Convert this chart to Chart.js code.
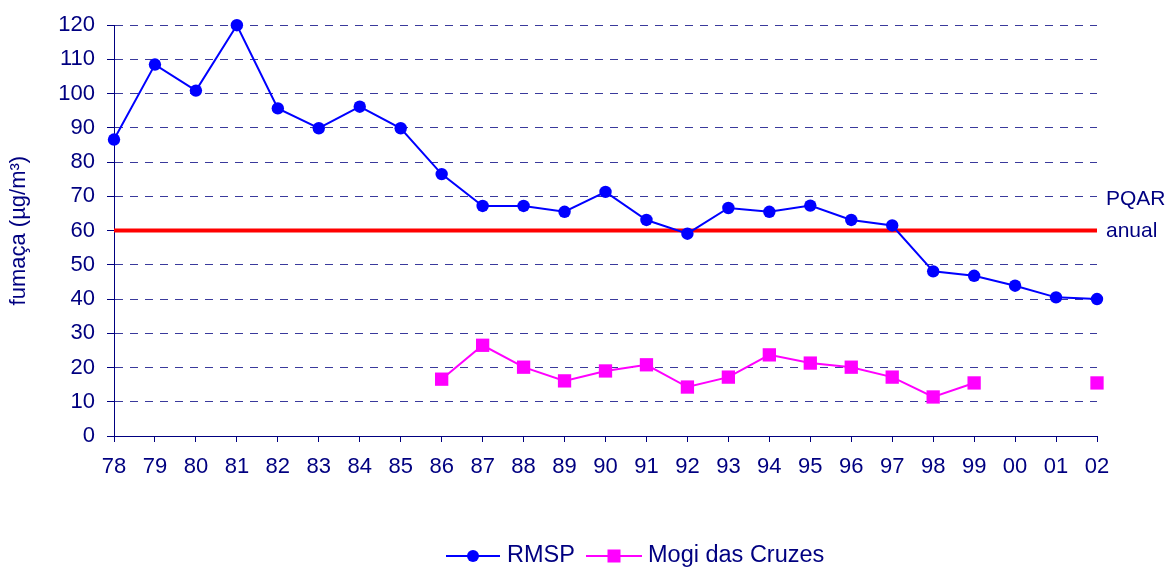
<!DOCTYPE html>
<html>
<head>
<meta charset="utf-8">
<script src="https://cdn.jsdelivr.net/npm/chart.js@4.4.1/dist/chart.umd.min.js"></script>
<style>
  html, body { margin: 0; padding: 0; background: #fff; }
  #wrap { width: 1166px; height: 568px; position: relative; }
</style>
</head>
<body>
<div id="wrap"><canvas id="chart"></canvas></div>
<script>
// ── Data ──────────────────────────────────────────────────────────────────
const years = ['78', '79', '80', '81', '82', '83', '84', '85', '86', '87', '88', '89',
  '90', '91', '92', '93', '94', '95', '96', '97', '98', '99', '00', '01', '02'];

const rmsp = [86.6, 108.5, 100.9, 120, 95.7, 89.9, 96.2, 89.9, 76.5, 67.2, 67.2, 65.5,
  71.3, 63.1, 59.1, 66.6, 65.5, 67.3, 63.1, 61.5, 48.1, 46.8, 43.9, 40.5, 40.0];

const mogi = [null, null, null, null, null, null, null, null, 16.6, 26.5, 20.1, 16.1,
  19.0, 20.8, 14.3, 17.2, 23.7, 21.3, 20.1, 17.2, 11.4, 15.5, null, null, 15.5];

const pqarAnual = 60;

const NAVY = '#000080';
const FONT = '"Liberation Sans", Arial, sans-serif';

// ── Plugins: PQAR label and bottom legend ─────────────────────────────────
const pqarLabel = {
  id: 'pqarLabel',
  afterDraw(chart) {
    const { ctx, chartArea, scales } = chart;
    const y = scales.y.getPixelForValue(pqarAnual);
    ctx.save();
    ctx.fillStyle = NAVY;
    ctx.font = '21px ' + FONT;
    ctx.textAlign = 'left';
    ctx.textBaseline = 'middle';
    ctx.fillText('PQAR', chartArea.right + 9, y - 31);
    ctx.fillText('anual', chartArea.right + 9, y + 1);
    ctx.restore();
  },
};

const bottomLegend = {
  id: 'bottomLegend',
  afterDraw(chart) {
    const { ctx } = chart;
    const y = 556;
    ctx.save();
    ctx.font = '23.5px ' + FONT;
    ctx.textBaseline = 'middle';

    // RMSP
    let x = 446;
    ctx.strokeStyle = '#0000ff';
    ctx.lineWidth = 2;
    ctx.beginPath();
    ctx.moveTo(x, y);
    ctx.lineTo(x + 54, y);
    ctx.stroke();
    ctx.fillStyle = '#0000ff';
    ctx.beginPath();
    ctx.arc(x + 27, y, 6, 0, Math.PI * 2);
    ctx.fill();
    ctx.fillStyle = NAVY;
    ctx.fillText('RMSP', x + 61, y);

    // Mogi das Cruzes
    x = 586;
    ctx.strokeStyle = '#ff00ff';
    ctx.beginPath();
    ctx.moveTo(x, y);
    ctx.lineTo(x + 56, y);
    ctx.stroke();
    ctx.fillStyle = '#ff00ff';
    ctx.fillRect(x + 28 - 6.5, y - 6.5, 13, 13);
    ctx.fillStyle = NAVY;
    ctx.fillText('Mogi das Cruzes', x + 62, y);
    ctx.restore();
  },
};

// ── Chart ─────────────────────────────────────────────────────────────────
const ctx = document.getElementById('chart').getContext('2d');
new Chart(ctx, {
  type: 'line',
  data: {
    labels: years,
    datasets: [
      {
        label: 'RMSP',
        data: rmsp,
        borderColor: '#0000ff',
        backgroundColor: '#0000ff',
        borderWidth: 2,
        pointRadius: 6.2,
        pointHoverRadius: 6.2,
        pointBorderWidth: 0,
        tension: 0,
        clip: false,
      },
      {
        label: 'Mogi das Cruzes',
        data: mogi,
        borderColor: '#ff00ff',
        backgroundColor: '#ff00ff',
        borderWidth: 2,
        pointStyle: 'rect',
        pointRadius: 9.4,
        pointHoverRadius: 9.4,
        pointBorderWidth: 0,
        spanGaps: false,
        tension: 0,
        clip: false,
      },
      {
        label: 'PQAR anual',
        data: years.map(() => pqarAnual),
        borderColor: '#ff0000',
        borderWidth: 4,
        pointRadius: 0,
        pointHoverRadius: 0,
        tension: 0,
      },
    ],
  },
  options: {
    responsive: true,
    maintainAspectRatio: false,
    animation: false,
    layout: { padding: { top: 23, right: 69, left: 0, bottom: 0 } },
    plugins: {
      legend: { display: false },
      tooltip: { enabled: false },
    },
    scales: {
      x: {
        offset: false,
        grid: {
          drawOnChartArea: false,
          drawTicks: true,
          tickLength: 6,
          tickColor: NAVY,
        },
        border: { color: NAVY, width: 1 },
        ticks: {
          color: NAVY,
          font: { family: FONT, size: 22 },
          padding: 12,
          maxRotation: 0,
          autoSkip: false,
        },
        afterFit(scale) { scale.height = 132; },
      },
      y: {
        min: 0,
        max: 120,
        grid: {
          color: '#3a3a9c',
          tickColor: NAVY,
          tickLength: 7,
          tickBorderDash: [],
        },
        border: { color: NAVY, width: 1, dash: [8, 7] },
        ticks: {
          stepSize: 10,
          color: NAVY,
          font: { family: FONT, size: 22 },
          padding: 12,
        },
        title: {
          display: true,
          text: 'fumaça (µg/m³)',
          color: NAVY,
          font: { family: FONT, size: 22 },
          padding: { top: 6, bottom: 0 },
        },
        afterFit(scale) { scale.width = 114; },
      },
    },
  },
  plugins: [pqarLabel, bottomLegend],
});
</script>
</body>
</html>
